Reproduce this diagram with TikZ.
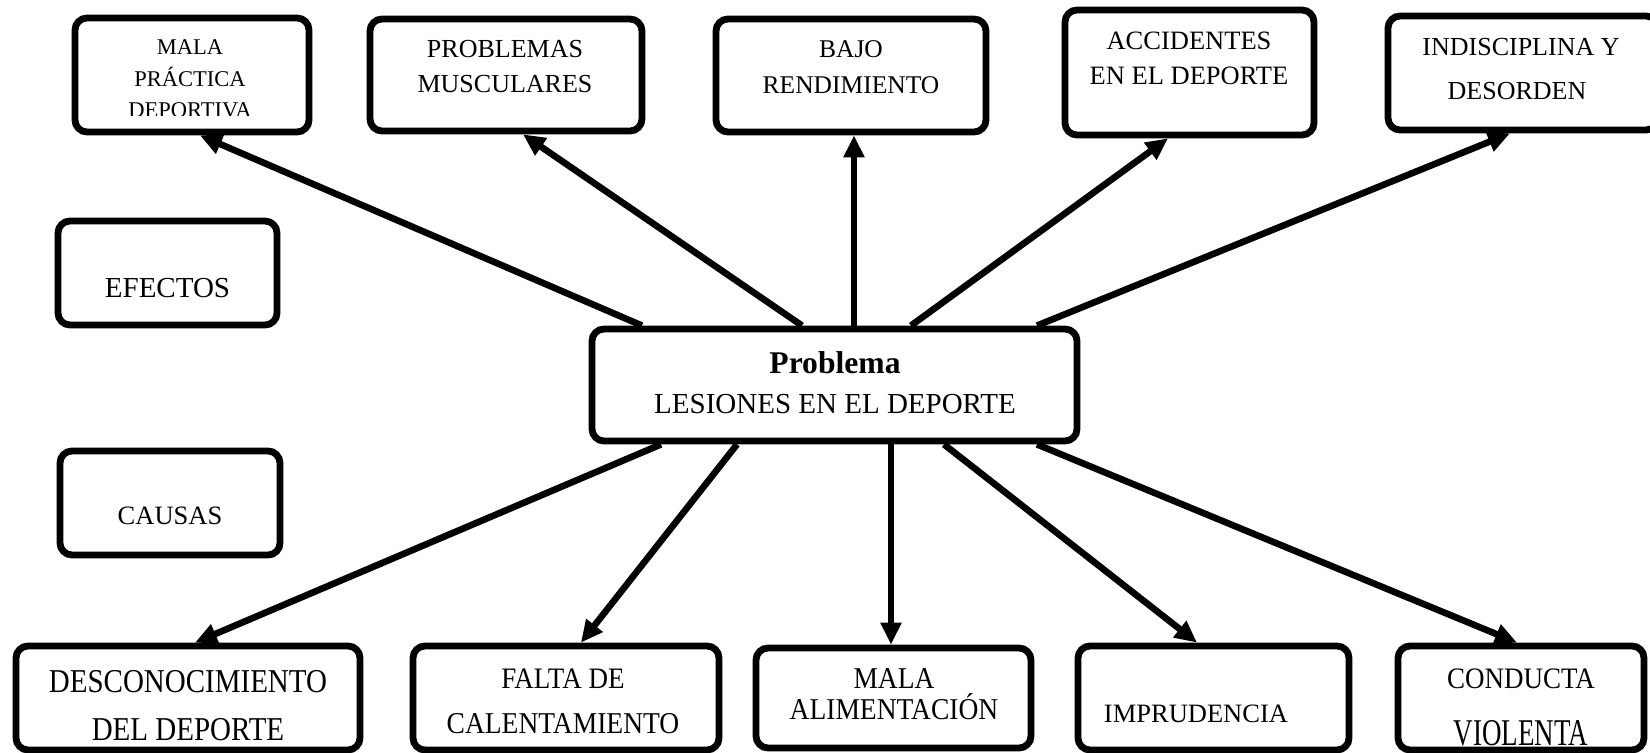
\documentclass[tikz,border=0pt]{standalone}
\usepackage{fontspec}
\setmainfont{Liberation Serif}
\usetikzlibrary{arrows.meta,calc}
\newcommand\fsz[1]{\fontsize{#1}{#1}\selectfont}
\begin{document}
\begin{tikzpicture}[x=0.5pt,y=-0.5pt,
  box/.style={draw,line width=3.4pt,rounded corners=6pt,rectangle,inner sep=0pt,outer sep=1.7pt,fill=white},
  lbl/.style={inner sep=0pt,anchor=base},
  arr/.style={line width=3.3pt,-{Triangle[length=11pt,width=10pt]}}]
\useasboundingbox (0,0) rectangle (1650,753);
\clip (0,0) rectangle (1650,753);
\fill[white] (0,0) rectangle (1650,753);

% boxes
\node[box,minimum width=117pt,minimum height=57pt] (mala) at (192,75) {};
\node[box,minimum width=136pt,minimum height=56pt] (musc) at (506,75) {};
\node[box,minimum width=135pt,minimum height=56.5pt] (bajo) at (851,75.5) {};
\node[box,minimum width=124.5pt,minimum height=62.5pt] (acc) at (1189.5,72.5) {};
\node[box,minimum width=135pt,minimum height=57pt] (indis) at (1523,73) {};
\node[box,minimum width=109.5pt,minimum height=52pt] (efectos) at (167.5,273) {};
\node[box,minimum width=110pt,minimum height=52pt] (causas) at (170,503) {};
\node[box,minimum width=242.5pt,minimum height=56pt] (cen) at (834.5,385) {};
\node[box,minimum width=172pt,minimum height=52pt] (desc) at (188,698) {};
\node[box,minimum width=153pt,minimum height=52pt] (falta) at (566,698) {};
\node[box,minimum width=137.5pt,minimum height=50pt] (malaal) at (893.5,698) {};
\node[box,minimum width=135.5pt,minimum height=52pt] (imprud) at (1213.5,698) {};
\node[box,minimum width=123pt,minimum height=52pt] (cond) at (1521,698) {};

% texts
\begin{scope}
\clip (72,15) rectangle (312,116);
\node[lbl,font=\fsz{11.25pt}] (t1a) at (190,55) {MALA};
\node[lbl,font=\fsz{11.25pt}] (t1b) at (190,87) {PRÁCTICA};
\node[lbl,font=\fsz{11.25pt}] (t1c) at (190,118) {DEPORTIVA};
\end{scope}
\node[lbl,font=\fsz{13pt}] (t2a) at (505,58) {PROBLEMAS};
\node[lbl,font=\fsz{13pt}] (t2b) at (505,93) {MUSCULARES};
\node[lbl,font=\fsz{12.75pt}] (t3a) at (851,58) {BAJO};
\node[lbl,font=\fsz{12.75pt}] (t3b) at (851,94) {RENDIMIENTO};
\node[lbl,font=\fsz{13.25pt}] (t4a) at (1189,50) {ACCIDENTES};
\node[lbl,font=\fsz{13.25pt}] (t4b) at (1189,85) {EN EL DEPORTE};
\node[lbl,font=\fsz{13pt}] (t5a) at (1521,56) {INDISCIPLINA Y};
\node[lbl,font=\fsz{13pt}] (t5b) at (1517,100) {DESORDEN};
\node[lbl,font=\fsz{14.5pt}] (t6) at (167.5,298) {EFECTOS};
\node[lbl,font=\fsz{13.25pt}] (t7) at (170,525) {CAUSAS};
\node[lbl,font=\fsz{15.8pt}\bfseries] (t8a) at (835,374) {Problema};
\node[lbl,font=\fsz{14.5pt}] (t8b) at (835,414) {LESIONES EN EL DEPORTE};
\node[lbl,font=\fsz{14.5pt}] (t9a) at (188,692) {\scalebox{1}[1.15]{DESCONOCIMIENTO}};
\node[lbl,font=\fsz{14.5pt}] (t9b) at (188,740) {\scalebox{1}[1.15]{DEL DEPORTE}};
\node[lbl,font=\fsz{13.5pt}] (t10a) at (563,688) {\scalebox{1}[1.1]{FALTA DE}};
\node[lbl,font=\fsz{13.75pt}] (t10b) at (563,733) {\scalebox{1}[1.1]{CALENTAMIENTO}};
\node[lbl,font=\fsz{13.75pt}] (t11a) at (894,688) {\scalebox{1}[1.1]{MALA}};
\node[lbl,font=\fsz{13.75pt}] (t11b) at (894,719) {\scalebox{1}[1.1]{ALIMENTACIÓN}};
\node[lbl,font=\fsz{13.25pt}] (t12) at (1196,722) {IMPRUDENCIA};
\node[lbl,font=\fsz{13.5pt}] (t13a) at (1521,688) {\scalebox{1}[1.1]{CONDUCTA}};
\node[lbl,font=\fsz{13.5pt}] (t13b) at (1521,745) {\scalebox{1}[1.4]{VIOLENTA}};

% arrows
\draw[arr] ([xshift=-96.25pt]cen.north) -- ([xshift=4pt]mala.south);
\draw[arr] ([xshift=-16.25pt]cen.north) -- ([xshift=8.5pt]musc.south);
\draw[arr] ([xshift=9.75pt]cen.north) -- ([xshift=1.5pt]bajo.south);
\draw[arr] ([xshift=38.25pt]cen.north) -- ([xshift=-10.75pt]acc.south);
\draw[arr] ([xshift=101.25pt]cen.north) -- ([xshift=-6.5pt]indis.south);
\draw[arr] ([xshift=-86.75pt]cen.south) -- ([xshift=3.5pt]desc.north);
\draw[arr] ([xshift=-48.75pt]cen.south) -- ([xshift=7.5pt]falta.north);
\draw[arr] ([xshift=28.25pt]cen.south) -- ([xshift=-1.25pt]malaal.north);
\draw[arr] ([xshift=54.75pt]cen.south) -- ([xshift=-8.25pt]imprud.north);
\draw[arr] ([xshift=101.25pt]cen.south) -- ([xshift=-2pt]cond.north);
\end{tikzpicture}
\end{document}
